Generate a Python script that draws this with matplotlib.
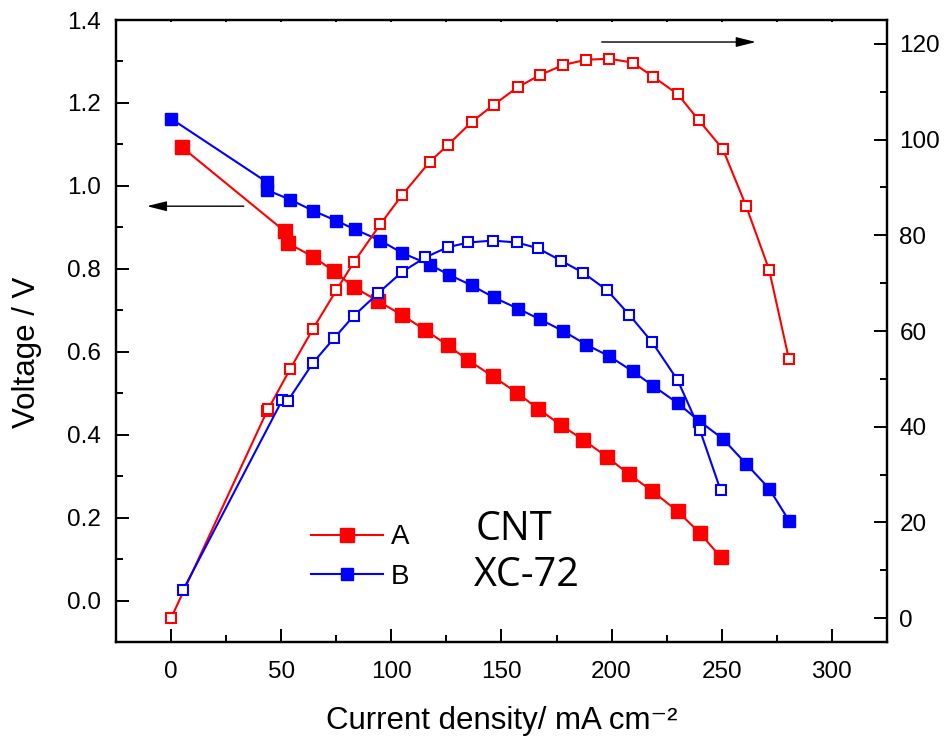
import matplotlib
matplotlib.use("Agg")
import matplotlib.pyplot as plt
from matplotlib.ticker import MultipleLocator, FormatStrFormatter

# ---- data ----
x_A_V = [5, 51.5, 53, 64.5, 74, 83, 94, 105, 115.5, 125.5, 135, 146, 157, 166.5,
         177, 187, 198, 208, 218.5, 230, 240, 249.5]
V_A = [1.093, 0.891, 0.862, 0.829, 0.794, 0.756, 0.722, 0.688, 0.652, 0.616, 0.579,
       0.541, 0.501, 0.463, 0.423, 0.388, 0.346, 0.304, 0.264, 0.215, 0.163, 0.105]

x_A_P = [0, 43.5, 44, 54, 64.5, 75, 83, 95, 105, 117.5, 125.5, 136.5, 146.5, 157.5,
         167.5, 178, 188.5, 199, 209.5, 219, 230, 239.5, 250.5, 261, 271.5, 280.5]
P_A = [0, 43.2, 43.6, 52.0, 60.5, 68.5, 74.4, 82.3, 88.5, 95.4, 98.8, 103.7, 107.3,
       111.0, 113.5, 115.6, 116.7, 116.9, 116.1, 113.1, 109.5, 104.1, 98.0, 86.2,
       72.8, 54.1]

x_B_V = [0, 43.5, 43.5, 54, 64.5, 75, 83.5, 95, 105, 117.5, 126, 136.5, 146.5, 157.5,
         167.5, 178, 188.5, 199, 209.5, 219, 230, 239.5, 250.5, 261, 271.5, 280.5]
V_B = [1.162, 1.009, 0.990, 0.967, 0.940, 0.916, 0.895, 0.868, 0.838, 0.810, 0.786,
       0.760, 0.731, 0.704, 0.678, 0.650, 0.617, 0.589, 0.553, 0.517, 0.476, 0.434,
       0.390, 0.330, 0.270, 0.193]

x_B_P = [5.5, 50.5, 53, 64.5, 74, 83, 94, 105, 115.5, 125.5, 135, 146, 157, 166.5,
         177, 187, 198, 208, 218.5, 230, 240, 249.5]
P_B = [5.9, 45.6, 45.4, 53.4, 58.5, 63.2, 67.9, 72.4, 75.4, 77.5, 78.5, 78.9, 78.5,
       77.3, 74.7, 72.2, 68.5, 63.4, 57.6, 49.7, 39.4, 26.7]

labels = ["A", "B"]
samples = ["CNT", "XC-72"]
RED = "#ff0000"
BLUE = "#0000ff"

plt.rcParams['font.family'] = ['Liberation Sans', 'DejaVu Sans']

fig = plt.figure(figsize=(9.47, 7.41), dpi=100)
ax = fig.add_axes([0.1225, 0.1336, 0.8141, 0.8394])
ax2 = ax.twinx()

lw = 1.5
lA, = ax.plot(x_A_V, V_A, color=RED, lw=lw, marker='s', ms=9.5, mec=RED, mfc=RED, zorder=3)
lB, = ax.plot(x_B_V, V_B, color=BLUE, lw=lw, marker='s', ms=8.0, mec=BLUE, mfc=BLUE, zorder=3)
ax2.plot(x_A_P, P_A, color=RED, lw=lw, marker='s', ms=6.5, mec=RED, mfc='white', mew=1.5)
ax2.plot(x_B_P, P_B, color=BLUE, lw=lw, marker='s', ms=6.5, mec=BLUE, mfc='white', mew=1.5)

ax.set_xlim(-25, 325)
ax.set_ylim(-0.1, 1.4)
ax2.set_ylim(-5, 125)

ax.xaxis.set_major_locator(MultipleLocator(50))
ax.xaxis.set_minor_locator(MultipleLocator(25))
ax.yaxis.set_major_locator(MultipleLocator(0.2))
ax.yaxis.set_minor_locator(MultipleLocator(0.1))
ax.yaxis.set_major_formatter(FormatStrFormatter('%.1f'))
ax2.yaxis.set_major_locator(MultipleLocator(20))
ax2.yaxis.set_minor_locator(MultipleLocator(10))

for a in (ax, ax2):
    for s in a.spines.values():
        s.set_linewidth(1.6)

ax.tick_params(axis='both', which='major', direction='in', length=9.5, width=1.4,
               labelsize=17.5, pad=11)
ax.tick_params(axis='x', which='major', pad=14)
ax.tick_params(axis='both', which='minor', direction='in', length=5, width=1.4)
ax.tick_params(axis='x', which='both', top=True)
ax.tick_params(axis='y', which='both', right=False)
ax2.tick_params(axis='y', which='major', direction='in', length=9.5, width=1.4,
                labelsize=17.5, pad=9)
ax2.tick_params(axis='y', which='minor', direction='in', length=5, width=1.4)

# top ticks are tiny in reference
for t in ax.xaxis.get_major_ticks() + ax.xaxis.get_minor_ticks():
    t.tick2line.set_markersize(1.5)

ax.set_xlabel("Current density/ mA cm\u207b\u00b2", fontsize=22.5)
ax.set_ylabel("Voltage / V", fontsize=22.5)
ax.xaxis.set_label_coords(0.5, -0.103)
ax.yaxis.set_label_coords(-0.096, 0.465)

# arrows
ax.annotate("", xy=(-11, 0.951), xytext=(33, 0.951),
            arrowprops=dict(arrowstyle="-|>,head_length=0.6,head_width=0.15",
                            mutation_scale=20, color='black', lw=1.0,
                            shrinkA=0, shrinkB=0))
ax2.annotate("", xy=(265.5, 120.4), xytext=(195.5, 120.4),
             arrowprops=dict(arrowstyle="-|>,head_length=0.6,head_width=0.15",
                             mutation_scale=20, color='black', lw=1.0,
                             shrinkA=0, shrinkB=0))

leg = ax2.legend([lA, lB], labels, loc='upper left', bbox_to_anchor=(0.238, 0.207),
                 frameon=False, fontsize=20, handlelength=2.6, handletextpad=0.3,
                 labelspacing=0.48, borderaxespad=0)

ax2.text(0.466, 0.164, samples[0], transform=ax.transAxes, fontsize=28.5,
         family=['Open Sans', 'DejaVu Sans'], ha='left', va='baseline')
ax2.text(0.464, 0.090, samples[1], transform=ax.transAxes, fontsize=28.5,
         family=['Open Sans', 'DejaVu Sans'], ha='left', va='baseline')

fig.savefig("out.png", dpi=100)
